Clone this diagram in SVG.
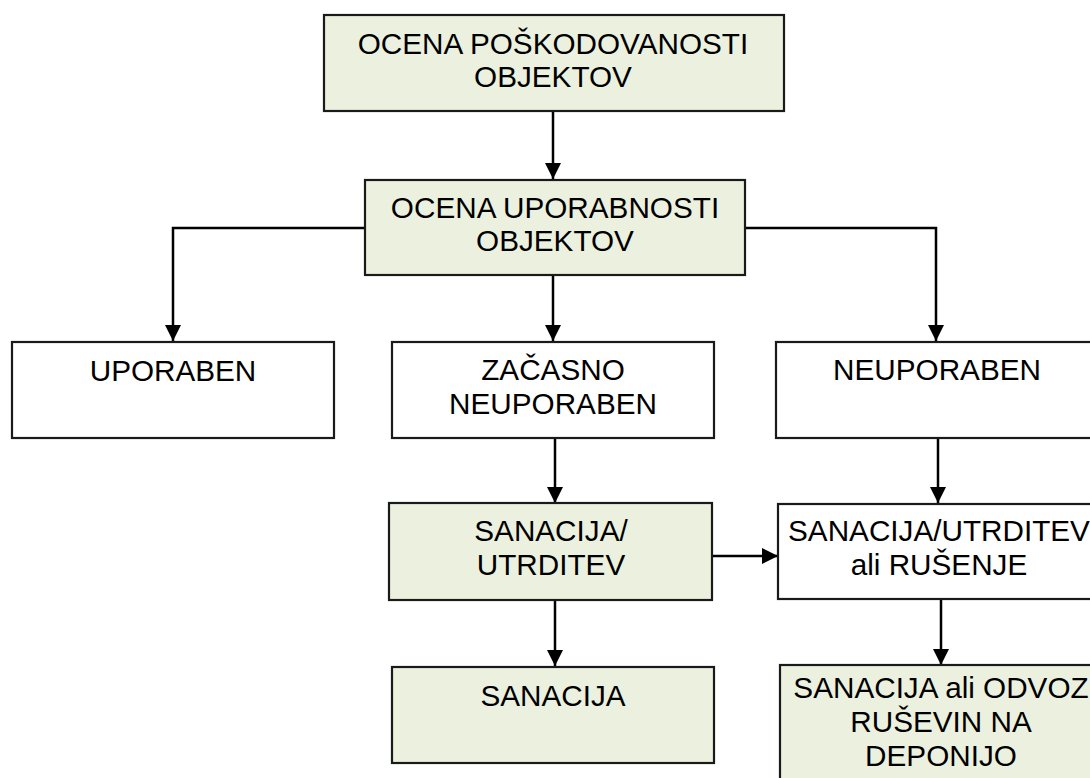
<svg xmlns="http://www.w3.org/2000/svg" width="1090" height="778" viewBox="0 0 1090 778">
<style>
.box{stroke:#1a1a1a;stroke-width:2.2;}
.g{fill:#EBF1DE;}
.w{fill:#FFFFFF;}
text{font-family:"Liberation Sans",Arial,sans-serif;font-size:29.7px;fill:#000;text-anchor:middle;}
.c{fill:none;stroke:#000;stroke-width:2.5;marker-end:url(#ah);}
</style>
<defs>
<marker id="ah" viewBox="0 0 16 16" markerWidth="16" markerHeight="16" refX="16" refY="8" orient="auto" markerUnits="userSpaceOnUse">
<polygon points="0,0 16,8 0,16" fill="#000"/>
</marker>
</defs>
<rect x="0" y="0" width="1090" height="778" fill="#FFFFFF"/>
<g id="connectors">
<line class="c" x1="553" y1="111" x2="553" y2="179"/>
<polyline class="c" points="365,228 173,228 173,341"/>
<line class="c" x1="553" y1="275" x2="553" y2="341"/>
<polyline class="c" points="745,228 936,228 936,341"/>
<line class="c" x1="555" y1="438" x2="555" y2="503"/>
<line class="c" x1="938" y1="438" x2="938" y2="503"/>
<line class="c" x1="713" y1="556" x2="778" y2="556"/>
<line class="c" x1="555" y1="600" x2="555" y2="666"/>
<line class="c" x1="941" y1="599" x2="941" y2="665"/>
</g>
<g id="n1">
<rect class="box g" x="324" y="15" width="460" height="96"/>
<text x="553" y="54">OCENA POŠKODOVANOSTI</text>
<text x="553" y="87">OBJEKTOV</text>
</g>
<g id="n2">
<rect class="box g" x="365" y="180" width="380" height="95"/>
<text x="555" y="218">OCENA UPORABNOSTI</text>
<text x="555" y="251">OBJEKTOV</text>
</g>
<g id="n3">
<rect class="box w" x="12" y="342" width="322" height="96"/>
<text x="173" y="381">UPORABEN</text>
</g>
<g id="n4">
<rect class="box w" x="392" y="342" width="322" height="96"/>
<text x="553" y="380">ZAČASNO</text>
<text x="553" y="414">NEUPORABEN</text>
</g>
<g id="n5">
<rect class="box w" x="776" y="342" width="322" height="96"/>
<text x="937" y="380">NEUPORABEN</text>
</g>
<g id="n6">
<rect class="box g" x="389" y="503" width="323" height="97"/>
<text x="551" y="541">SANACIJA/</text>
<text x="551" y="575">UTRDITEV</text>
</g>
<g id="n7">
<rect class="box w" x="778" y="504" width="322" height="95"/>
<text x="939" y="541">SANACIJA/UTRDITEV</text>
<text x="939" y="575">ali RUŠENJE</text>
</g>
<g id="n8">
<rect class="box g" x="392" y="667" width="322" height="96"/>
<text x="553" y="706">SANACIJA</text>
</g>
<g id="n9">
<rect class="box g" x="780" y="665" width="322" height="130"/>
<text x="941" y="698">SANACIJA ali ODVOZ</text>
<text x="941" y="732">RUŠEVIN NA</text>
<text x="941" y="766">DEPONIJO</text>
</g>
</svg>
